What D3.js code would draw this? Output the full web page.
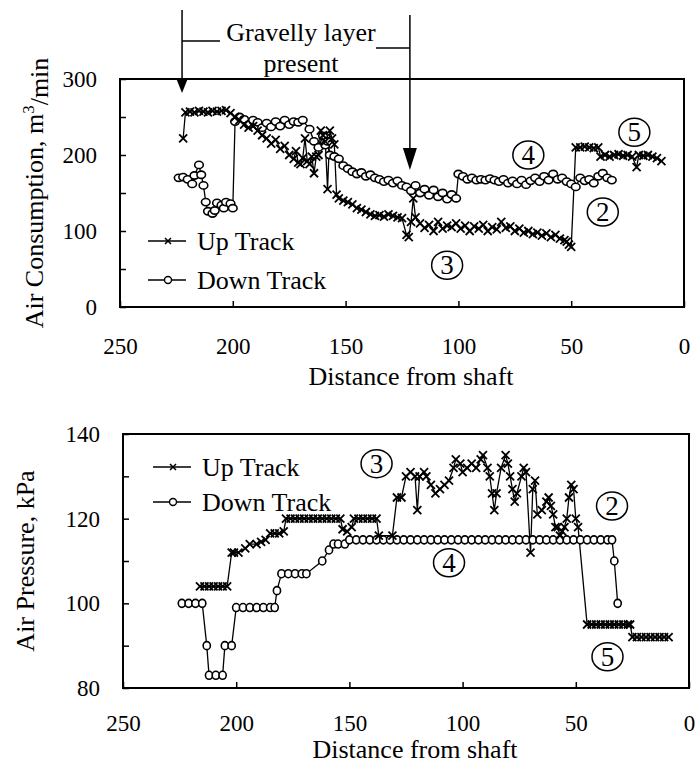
<!DOCTYPE html>
<html>
<head>
<meta charset="utf-8">
<script src="https://cdn.jsdelivr.net/npm/d3@7"></script>
<style>
  body { margin: 0; background: #fff; }
  svg { display: block; }
  text { font-family: "Liberation Serif", "Times New Roman", serif; fill: #000; }
</style>
</head>
<body>
<svg width="695" height="765"></svg>
<script>
// ---- data (distance from shaft, m) ----
// top panel: air consumption, m3/min
const consUpDist = [222, 221, 219, 217, 215, 213, 211, 209, 207, 205, 203, 201, 199, 197, 195, 193, 191, 189, 187, 185,
  183, 181, 179, 177, 175, 173, 172, 171, 170, 169, 168, 167, 166, 165, 164, 163, 162, 161, 160, 159,
  158, 157, 156, 155, 154, 153, 151, 149, 147, 145, 143, 141, 139, 137, 135, 133, 131, 129, 127, 125,
  123, 122, 121, 120, 119, 117, 115, 113, 111, 109, 107, 105, 103, 101, 99, 97, 95, 93, 91, 89,
  87, 85, 83, 81, 79, 77, 75, 73, 71, 69, 67, 65, 63, 61, 59, 57, 55, 53, 52, 51,
  50, 48, 46, 44, 42, 40, 38, 37, 35, 33, 31, 29, 27, 25, 23, 21, 20, 18, 16, 14, 12, 10];
const consUpAir = [222, 256, 257, 256, 258, 257, 256, 258, 257, 258, 259, 255, 250, 246, 240, 236, 238, 232, 226, 222,
  215, 220, 208, 212, 200, 195, 205, 190, 188, 196, 222, 192, 188, 198, 176, 198, 200, 232, 226, 218,
  155, 232, 222, 214, 148, 143, 140, 138, 135, 130, 128, 125, 122, 120, 121, 119, 122, 120, 118, 117,
  95, 92, 112, 143, 118, 110, 104, 108, 100, 112, 103, 107, 105, 110, 103, 107, 100, 106, 103, 108,
  100, 105, 102, 112, 104, 106, 100, 103, 98, 100, 96, 98, 94, 97, 92, 95, 90, 88, 86, 82,
  79, 210, 210, 211, 210, 209, 210, 198, 200, 198, 200, 201, 199, 200, 198, 184, 200, 199, 200, 198, 196, 192];

const consDownDist = [224, 222, 220, 218, 217, 215, 214, 213, 212, 211, 209, 208, 207, 205, 204, 203, 201, 200, 199, 197,
  195, 193, 191, 189, 187, 185, 183, 181, 179, 177, 175, 173, 171, 169, 166, 164, 162, 160, 159, 158,
  157, 155, 153, 151, 149, 147, 145, 143, 141, 139, 137, 135, 133, 131, 129, 127, 125, 123, 121, 119,
  117, 115, 113, 111, 109, 107, 105, 103, 101, 100, 98, 96, 94, 92, 90, 88, 86, 84, 82, 80,
  78, 76, 74, 72, 70, 68, 66, 64, 62, 60, 58, 56, 54, 52, 50, 48, 46, 44, 42, 40,
  38, 36, 34, 32];
const consDownAir = [170, 171, 168, 162, 173, 187, 174, 160, 138, 126, 123, 127, 137, 134, 130, 138, 136, 130, 244, 250,
  247, 240, 246, 243, 236, 242, 237, 244, 238, 246, 240, 244, 243, 246, 234, 218, 210, 225, 213, 218,
  200, 198, 195, 186, 182, 178, 175, 177, 172, 174, 170, 168, 165, 167, 163, 166, 160, 158, 153, 160,
  150, 155, 147, 154, 145, 150, 142, 148, 143, 175, 172, 168, 170, 167, 168, 167, 169, 167, 165, 168,
  163, 166, 162, 167, 161, 166, 170, 165, 172, 167, 175, 168, 170, 165, 162, 158, 170, 166, 168, 163,
  172, 176, 170, 167];

// bottom panel: air pressure, kPa
const presUpDist = [216, 214, 212, 210, 208, 206, 204, 202, 201, 199, 196, 194, 191, 189, 187, 185, 183, 181, 179, 178,
  176, 174, 172, 170, 168, 166, 164, 162, 160, 158, 156, 154, 153, 151, 149, 148, 146, 144, 142, 140,
  138, 137, 131, 129, 127, 125, 123, 121, 120, 119, 117, 116, 114, 112, 110, 108, 106, 104, 103, 101,
  100, 98, 96, 94, 92, 91, 89, 88, 87, 86, 85, 83, 81, 80, 79, 78, 77, 76, 74, 73,
  72, 70, 69, 68, 67, 65, 63, 62, 61, 60, 59, 58, 57, 56, 55, 54, 53, 52, 51, 50,
  49, 45, 43, 41, 39, 37, 35, 33, 31, 29, 27, 26, 25, 23, 21, 19, 17, 15, 13, 11, 9];
const presUpKpa = [104, 104, 104, 104, 104, 104, 104, 112, 112, 112, 113, 114, 114, 114.5, 115, 116.5, 116.5, 116.5, 117, 120,
  120, 120, 120, 120, 120, 120, 120, 120, 120, 120, 120, 120, 117.5, 117, 118, 120, 120, 120, 120, 120,
  120, 116, 116, 125, 125, 130, 131, 130, 122, 130, 131, 130, 128, 126, 127, 128, 129, 132, 134, 133,
  131, 132, 133, 132, 134, 135, 132, 130, 126, 122, 126, 132, 135, 133, 130, 127, 124, 126, 130, 132,
  131, 112, 127, 129, 121, 122, 124, 125, 123, 121, 118, 118, 116, 117, 118, 120, 125, 128, 127, 120,
  118, 95, 95, 95, 95, 95, 95, 95, 95, 95, 95, 95, 92, 92, 92, 92, 92, 92, 92, 92, 92];

const presDownDist = [224, 221, 218, 215, 213, 212, 209, 206, 205, 202, 200, 197, 194, 191, 188, 185, 183, 182, 180, 177,
  174, 171, 169, 162, 159, 157, 155, 152, 150, 147, 144, 141, 138, 135, 132, 129, 126, 123, 120, 117,
  114, 111, 108, 105, 102, 99, 96, 93, 90, 87, 84, 81, 78, 75, 72, 69, 66, 63, 60, 57,
  54, 51, 48, 45, 42, 39, 36, 34, 33, 31.5];
const presDownKpa = [100, 100, 100, 100, 90, 83, 83, 83, 90, 90, 99, 99, 99, 99, 99, 99, 99, 103, 107, 107,
  107, 107, 107, 110, 112.6, 114, 114, 114, 115, 115, 115, 115, 115, 115, 115, 115, 115, 115, 115, 115,
  115, 115, 115, 115, 115, 115, 115, 115, 115, 115, 115, 115, 115, 115, 115, 115, 115, 115, 115, 115,
  115, 115, 115, 115, 115, 115, 115, 115, 110, 100];

const trackNames = ["Up Track", "Down Track"];
const zoneLabels = ["2", "3", "4", "5"];
const consZoneDist = [36, 105, 69, 22];
const consZoneAir = [125, 55, 200, 230];
const presZoneDist = [34, 138, 106, 36];
const presZoneKpa = [123, 133, 109.6, 87.4];
const gravelDist = [222.5, 121.5];

const consTicks = [0, 50, 100, 150, 200, 250, 300];
const presTicks = [80, 90, 100, 110, 120, 130, 140];
const distTicks = [250, 200, 150, 100, 50, 0];

// ---- drawing ----
const svg = d3.select("svg");
const FONT = '"Liberation Serif", "Times New Roman", serif';

function crossPath(s) {
  return `M${-s},${-s}L${s},${s}M${-s},${s}L${s},${-s}`;
}

function drawPanel(p) {
  const x = p.x, y = p.y;
  const [x0, x1] = x.range();
  const [y0, y1] = y.range();
  const g = svg.append("g");

  // axes
  const ya = g.append("g").attr("transform", `translate(${x0},0)`)
    .call(d3.axisLeft(y).tickValues(p.yTicks).tickSize(-6).tickPadding(23)
      .tickFormat(d => p.yLabel(d) ? d : ""));
  const xa = g.append("g").attr("transform", `translate(0,${y0})`)
    .call(d3.axisBottom(x).tickValues(distTicks).tickSize(-6).tickPadding(p.xPad));
  [ya, xa].forEach(a => {
    a.select(".domain").remove();
    a.attr("font-family", FONT).attr("font-size", 23);
    a.selectAll("line").attr("stroke-width", 1.5);
  });

  // frame
  g.append("rect")
    .attr("x", x0).attr("y", y1)
    .attr("width", x1 - x0).attr("height", y0 - y1)
    .attr("fill", "none").attr("stroke", "#000").attr("stroke-width", 2);

  // titles
  g.append("text")
    .attr("x", (x0 + x1) / 2 + 9).attr("y", p.xTitleY)
    .attr("text-anchor", "middle").attr("font-size", 26)
    .text("Distance from shaft");
  const yt = g.append("text")
    .attr("transform", `translate(${p.yTitleX},${(y0 + y1) / 2}) rotate(-90)`)
    .attr("text-anchor", "middle").attr("font-size", 26);
  p.yTitle(yt);

  // series
  const line = d3.line().x(d => x(d[0])).y(d => y(d[1]));
  const up = d3.zip(p.upDist, p.upVal);
  const down = d3.zip(p.downDist, p.downVal);
  g.append("path").datum(up).attr("d", line)
    .attr("fill", "none").attr("stroke", "#000").attr("stroke-width", 1.3);
  g.append("path").datum(down).attr("d", line)
    .attr("fill", "none").attr("stroke", "#000").attr("stroke-width", 1.3);

  g.selectAll(".dn").data(down).enter().append("ellipse")
    .attr("cx", d => x(d[0])).attr("cy", d => y(d[1]))
    .attr("rx", p.rx).attr("ry", p.ry)
    .attr("fill", "#fff").attr("stroke", "#000").attr("stroke-width", 1.6);
  g.selectAll(".up").data(up).enter().append("path")
    .attr("transform", d => `translate(${x(d[0])},${y(d[1])})`)
    .attr("d", crossPath(4))
    .attr("stroke", "#000").attr("stroke-width", 1.8);

  // legend
  trackNames.forEach((name, i) => {
    const ly = p.legY + i * p.legGap;
    const lg = g.append("g");
    lg.append("line").attr("x1", p.legX).attr("x2", p.legX + 38)
      .attr("y1", ly).attr("y2", ly).attr("stroke", "#000").attr("stroke-width", 1.5);
    if (i === 0) {
      lg.append("path").attr("transform", `translate(${p.legX + 20},${ly})`)
        .attr("d", crossPath(3)).attr("stroke", "#000").attr("stroke-width", 1.5);
    } else {
      lg.append("circle").attr("cx", p.legX + 20).attr("cy", ly).attr("r", 3.5)
        .attr("fill", "#fff").attr("stroke", "#000").attr("stroke-width", 1.4);
    }
    lg.append("text").attr("x", p.legX + 49).attr("y", ly).attr("dy", "0.33em")
      .attr("font-size", 26).text(name);
  });

  // circled zone numbers
  zoneLabels.forEach((lab, i) => {
    const cx = x(p.zoneDist[i]), cy = y(p.zoneVal[i]);
    g.append("ellipse").attr("cx", cx).attr("cy", cy).attr("rx", 15.5).attr("ry", 14)
      .attr("fill", "#fff").attr("stroke", "#000").attr("stroke-width", 1.5);
    g.append("text").attr("x", cx).attr("y", cy).attr("dy", "0.34em")
      .attr("text-anchor", "middle").attr("font-size", 27).text(lab);
  });
  return g;
}

const xCons = d3.scaleLinear().domain([250, 0]).range([120, 684]);
const yCons = d3.scaleLinear().domain([0, 300]).range([307, 79]);
const xPres = d3.scaleLinear().domain([250, 0]).range([123, 689]);
const yPres = d3.scaleLinear().domain([80, 140]).range([688, 434]);

drawPanel({
  x: xCons, y: yCons, yTicks: consTicks, yLabel: d => d % 100 === 0,
  upDist: consUpDist, upVal: consUpAir, downDist: consDownDist, downVal: consDownAir,
  zoneDist: consZoneDist, zoneVal: consZoneAir,
  rx: 4.3, ry: 3.6, legX: 148, legY: 241, legGap: 39,
  xPad: 31, xTitleY: 385, yTitleX: 43,
  yTitle: t => {
    t.append("tspan").text("Air Consumption,  m");
    t.append("tspan").attr("dy", "-0.55em").attr("font-size", 17).text("3");
    t.append("tspan").attr("dy", "0.55em").text("/min");
  }
});

drawPanel({
  x: xPres, y: yPres, yTicks: presTicks, yLabel: d => d % 20 === 0,
  upDist: presUpDist, upVal: presUpKpa, downDist: presDownDist, downVal: presDownKpa,
  zoneDist: presZoneDist, zoneVal: presZoneKpa,
  rx: 3.6, ry: 4, legX: 153, legY: 467, legGap: 35,
  xPad: 27, xTitleY: 758, yTitleX: 34,
  yTitle: t => t.text("Air Pressure,  kPa")
});

// "Gravelly layer present" annotation with its two arrows
const ann = svg.append("g");
ann.append("text").attr("x", 301).attr("y", 32).attr("dy", "0.33em")
  .attr("text-anchor", "middle").attr("font-size", 26).text("Gravelly layer");
ann.append("text").attr("x", 301).attr("y", 63).attr("dy", "0.33em")
  .attr("text-anchor", "middle").attr("font-size", 26).text("present");

const arrowTops = [10, 15];
const arrowTips = [93, 170];
const arrowTicks = [[220, 41], [376, 48]];
gravelDist.forEach((d, i) => {
  const ax = xCons(d);
  ann.append("line").attr("x1", ax).attr("x2", ax)
    .attr("y1", arrowTops[i]).attr("y2", arrowTips[i] - 10)
    .attr("stroke", "#000").attr("stroke-width", 1.5);
  const h = i === 0 ? 15 : 22, w = i === 0 ? 6 : 7;
  ann.append("path")
    .attr("d", `M${ax - w},${arrowTips[i] - h}L${ax + w},${arrowTips[i] - h}L${ax},${arrowTips[i]}Z`)
    .attr("fill", "#000");
  ann.append("line").attr("x1", ax).attr("x2", arrowTicks[i][0])
    .attr("y1", arrowTicks[i][1]).attr("y2", arrowTicks[i][1])
    .attr("stroke", "#000").attr("stroke-width", 1.5);
});
</script>
</body>
</html>
